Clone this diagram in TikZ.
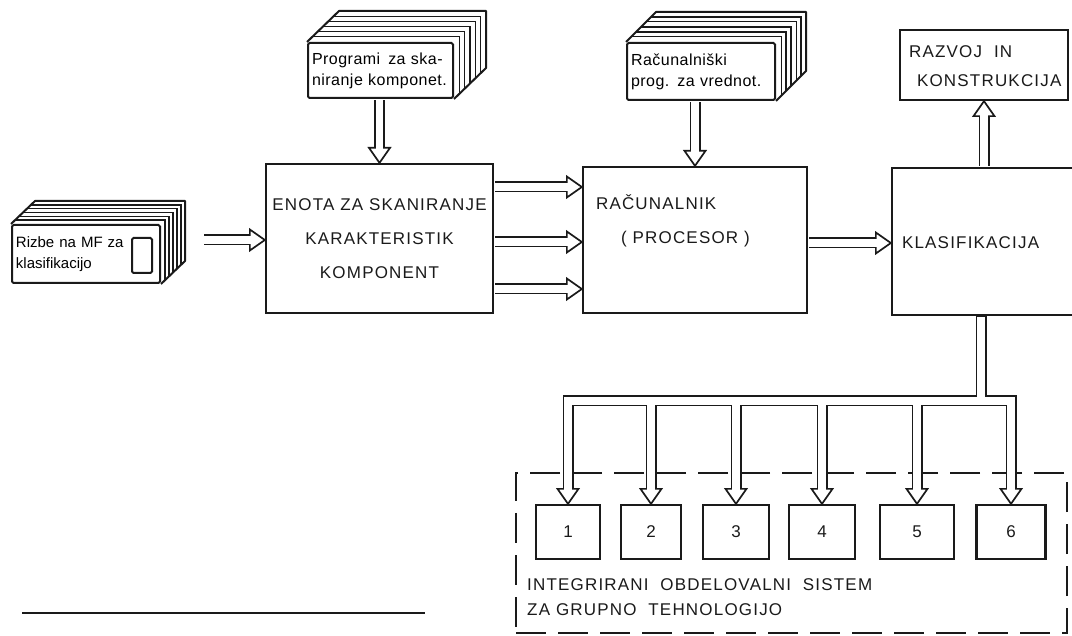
\documentclass[tikz,border=0pt]{standalone}
\usepackage{fontspec}
\setmainfont{Liberation Sans}
\newfontfamily\letterfont[LetterSpace=7]{Liberation Sans}
\newfontfamily\handfont[LetterSpace=3]{Liberation Sans}
\usetikzlibrary{calc}
\definecolor{inkblack}{HTML}{1A1A1A}

% hollow (double line) arrow from #1 to #2
\newcommand{\pipearrow}[2]{%
  \coordinate (pa-base) at ($(#2)!15pt!(#1)$);
  \coordinate (pa-open) at ($(#2)!13pt!(#1)$);
  \coordinate (pa-start) at ($(#1)!1.2pt!(#2)$);
  \draw[pipeout] (pa-start) -- (pa-base);
  \draw[pipehead] (#2) -- ($(pa-base)!10.5pt!90:(#2)$) -- ($(pa-base)!10.5pt!-90:(#2)$) -- cycle;
  \draw[pipein] (pa-start) -- (pa-open);
}
% top and side of a stack of cards behind front node #1
\newcommand{\cardstack}[3]{%
  \draw[stackedge] (#1.north west) -- ++(#2,#3) -- ($(#1.north east)+(#2,#3)$)
    -- ($(#1.south east)+(#2,#3)$) -- (#1.south east);
  \foreach \f in {0.17,0.33,0.5,0.67,0.83}
    \draw[sheetline] ($(#1.north west)+\f*(#2,#3)$) -- ($(#1.north east)+\f*(#2,#3)$)
      -- ($(#1.south east)+\f*(#2,#3)$);
}

\begin{document}
\begin{tikzpicture}[x=1pt, y=-1pt,
    box/.style={draw=inkblack, line width=2.3pt, inner sep=0pt},
    stackface/.style={draw=inkblack, line width=2pt, fill=white, rounded corners=1.5pt, inner sep=4pt, align=left, font=\handfont\fontsize{16}{21}\selectfont},
    stackedge/.style={draw=inkblack, line width=2pt, line join=round},
    sheetline/.style={draw=inkblack, line width=1.2pt},
    caps/.style={inner sep=0pt, text=inkblack, font=\letterfont\fontsize{17}{34}\selectfont},
    pipeout/.style={draw=inkblack, line width=11pt, line join=miter},
    pipein/.style={draw=white, line width=7.6pt, line join=miter},
    pipehead/.style={draw=inkblack, line width=1.7pt, fill=white, line join=miter}
]
\useasboundingbox (0,0) rectangle (1072,636);
\clip (0,0) rectangle (1072,636);

% input stacks
\node[stackface, minimum width=148pt, minimum height=58pt, text width=140pt, font=\fontsize{15}{21}\selectfont] (rizbe) at (86,254) {Rizbe na MF za\\klasifikacijo};
\cardstack{rizbe}{24}{-23}
\node[stackface, minimum width=20pt, minimum height=35pt, inner sep=0pt] (slot) at (142,255.5) {};

\node[stackface, minimum width=145pt, minimum height=55pt, text width=137pt] (progs) at (380.5,70.5) {Programi\enspace za ska-\\niranje komponet.};
\cardstack{progs}{32}{-31}

\node[stackface, minimum width=148pt, minimum height=57pt, text width=140pt] (calcs) at (701,71.5) {Računalniški\\prog. za vrednot.};
\cardstack{calcs}{30}{-30}

% main blocks
\node[box, caps, minimum width=227pt, minimum height=149pt, align=center] (enota) at (379.5,238.5) {ENOTA ZA SKANIRANJE\\KARAKTERISTIK\\KOMPONENT};

\node[box, minimum width=224pt, minimum height=146pt] (rac) at (695,240) {};
\node[caps, anchor=west] (racname) at ($(rac.north west)+(14,36)$) {RAČUNALNIK};
\node[caps, anchor=west] (racsub) at ($(rac.north west)+(39,73)$) {( PROCESOR )};

\node[box, minimum width=188pt, minimum height=147pt] (klas) at (986,241.5) {};
\node[caps, anchor=west] (klasname) at ($(klas.west)+(11,1)$) {KLASIFIKACIJA};

\node[box, minimum width=168pt, minimum height=70pt] (razvoj) at (984,65) {};
\node[caps, anchor=west] (razvojname) at ($(razvoj.north west)+(10,23)$) {RAZVOJ\hspace{12pt}IN};
\node[caps, anchor=west] (razvojsub) at ($(razvoj.north west)+(18,52)$) {KONSTRUKCIJA};

% group technology cells
\node[draw=inkblack, line width=1.6pt, dash pattern=on 30pt off 12pt, minimum width=551pt, minimum height=160pt, inner sep=0pt] (grp) at (791.5,553) {};
\foreach \n/\x/\w in {1/568/64pt, 2/651/60pt, 3/736/66pt, 4/822/66pt, 5/917/74pt, 6/1011/69pt}
  \node[box, caps, minimum width=\w, minimum height=54pt] (g\n) at (\x,532) {\n};
\node[caps, anchor=west, align=left, font=\letterfont\fontsize{17}{25}\selectfont] (grpname) at (527,597.5) {INTEGRIRANI\ \ OBDELOVALNI\ \ SISTEM\\ZA GRUPNO\ \ TEHNOLOGIJO};

% arrows
\coordinate (rizout) at (203,240);
\coordinate (lvl1) at (0,187);
\coordinate (lvl2) at (0,242);
\coordinate (lvl3) at (0,289);
\coordinate (lvlk) at (0,243);
\pipearrow{rizout}{enota.west |- rizout}
\pipearrow{enota.north |- progs.south}{enota.north}
\pipearrow{rac.north |- calcs.south}{rac.north}
\foreach \l in {lvl1,lvl2,lvl3}
  {\pipearrow{enota.east |- \l}{rac.west |- \l}}
\pipearrow{rac.east |- lvlk}{klas.west |- lvlk}
\pipearrow{klas.north -| razvoj.south}{razvoj.south}

% distribution bus
\coordinate (trunk) at (981,401);
\draw[pipeout] (klas.south -| trunk) -- (trunk);
\draw[pipeout] ($(g1.north)+(0,-15)$) -- (g1.north |- trunk) -- (g6.north |- trunk) -- ($(g6.north)+(0,-15)$);
\foreach \i in {2,...,5}
  \draw[pipeout] (g\i.north |- trunk) -- ($(g\i.north)+(0,-15)$);
\foreach \i in {1,...,6}
  \draw[pipehead] (g\i.north) -- ++(-10.5,-15) -- ++(21,0) -- cycle;
\draw[pipein] ($(klas.south -| trunk)+(0,1.3)$) -- (trunk);
\draw[pipein] ($(g1.north)+(0,-13)$) -- (g1.north |- trunk) -- (g6.north |- trunk) -- ($(g6.north)+(0,-13)$);
\foreach \i in {2,...,5}
  \draw[pipein] (g\i.north |- trunk) -- ($(g\i.north)+(0,-13)$);

% footnote rule
\draw[inkblack, line width=2.2pt] (22,613) -- (425,613);
\end{tikzpicture}
\end{document}
